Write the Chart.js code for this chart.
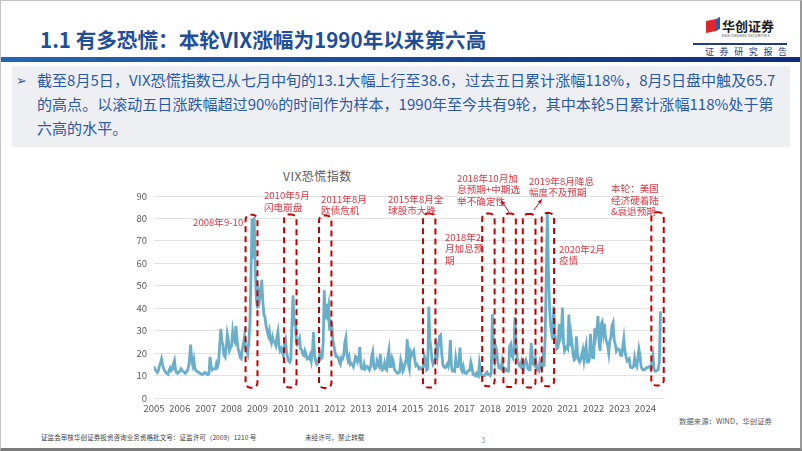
<!DOCTYPE html>
<html>
<head>
<meta charset="utf-8">
<script src="https://cdn.jsdelivr.net/npm/chart.js@4.4.1/dist/chart.umd.min.js"></script>
<style>
  body { margin: 0; width: 802px; height: 451px; overflow: hidden; background: #fff;
         font-family: "Noto Sans CJK SC", "Noto Sans", sans-serif; position: relative; }
  .abs { position: absolute; white-space: nowrap; }
  #frame { position: absolute; left: 0; top: 0; width: 799px; height: 447px;
           border-left: 1px solid #c4c4c4; border-top: 1px solid #c4c4c4;
           border-right: 2px solid #9a9a9a; border-bottom: 3px solid #7c7c7c; }
  #title { left: 40px; top: 26px; font-size: 20.6px; line-height: 26px; font-weight: 700; color: #1f4e9b; }
  #bar { left: 1px; top: 57px; width: 799px; height: 5px; background: linear-gradient(to right, #2466b1, #0c2d7c); }
  #box { left: 12px; top: 66px; width: 778px; height: 81px; background: #eeeff2; }
  #para { left: 37px; top: 68px; font-size: 15.05px; line-height: 24px; color: #2a5aa6; }
  #marker { left: 16px; top: 69px; font-size: 13px; line-height: 22px; color: #2a5aa6; }
  #chartTitle { left: 283px; top: 167px; font-size: 12px; line-height: 18px; color: #595959; letter-spacing: 0.5px; }
  #source { left: 679px; top: 415px; font-size: 7.4px; line-height: 12px; color: #595959; }
  #foot1 { left: 41px; top: 431px; font-size: 6.6px; line-height: 12px; color: #444; }
  #foot2 { left: 305px; top: 431px; font-size: 6.6px; line-height: 12px; color: #444; }
  #page { left: 481px; top: 434px; font-size: 8px; line-height: 12px; color: #a0a0a0; }
  #logoRed { left: 706px; top: 20px; width: 10px; height: 12px; background: #e0262b; transform: skewY(-12deg); }
  #logoBlue { left: 716px; top: 18px; width: 4px; height: 12px; background: #2b5aa8; transform: skewY(-30deg); }
  #logoName { left: 722px; top: 17px; font-size: 13px; line-height: 18px; font-weight: 700; color: #1d1d1d; }
  #logoEn { left: 722px; top: 33px; font-size: 3.6px; line-height: 5px; color: #333; letter-spacing: 0.2px; }
  #logoLine { left: 693px; top: 43px; width: 94px; height: 1.5px; background: #1f3c88; }
  #report { left: 705px; top: 46px; font-size: 9px; line-height: 12px; color: #1f3c88; letter-spacing: 5.6px; }
  canvas { position: absolute; left: 0; top: 0; }
</style>
</head>
<body>
<div id="frame"></div>
<div class="abs" id="title">1.1 有多恐慌：本轮VIX涨幅为1990年以来第六高</div>
<div class="abs" id="logoRed"></div>
<div class="abs" id="logoBlue"></div>
<div class="abs" id="logoName">华创证券</div>
<div class="abs" id="logoEn">HUA CHUANG SECURITIES</div>
<div class="abs" id="logoLine"></div>
<div class="abs" id="report">证券研究报告</div>
<div class="abs" id="bar"></div>
<div class="abs" id="box"></div>
<div class="abs" id="marker">➢</div>
<div class="abs" id="para">截至8月5日，VIX恐慌指数已从七月中旬的13.1大幅上行至38.6，过去五日累计涨幅118%，8月5日盘中触及65.7<br>的高点。以滚动五日涨跌幅超过90%的时间作为样本，1990年至今共有9轮，其中本轮5日累计涨幅118%处于第<br>六高的水平。</div>
<div class="abs" id="chartTitle">VIX恐慌指数</div>
<div class="abs" id="source">数据来源：WIND，华创证券</div>
<div class="abs" id="foot1">证监会审核华创证券投资咨询业务资格批文号：证监许可（2009）1210 号</div>
<div class="abs" id="foot2">未经许可，禁止转载</div>
<div class="abs" id="page">3</div>
<canvas id="chart" width="802" height="451"></canvas>

<script>
// VIX closes, two readings per month (first / second half)
const vix2005 = [14.1, 12.6, 12.2, 11.4, 12.1, 14.2, 15.6, 17.4, 14.8, 13.1, 12.0, 11.3, 10.9, 10.6, 12.3, 13.4, 12.2, 12.6, 15.3, 16.8, 12.5, 11.2, 11.0, 11.6];
const vix2006 = [11.8, 13.0, 12.4, 11.9, 11.5, 11.0, 11.6, 12.2, 13.8, 17.6, 23.8, 16.2, 14.3, 17.0, 13.1, 12.2, 11.8, 11.6, 11.1, 10.9, 10.6, 10.5, 10.8, 11.3];
const vix2007 = [11.2, 10.6, 10.4, 10.8, 18.3, 14.2, 12.6, 13.0, 13.1, 13.0, 15.4, 14.1, 16.0, 23.8, 30.8, 25.2, 23.6, 19.0, 18.2, 22.3, 28.5, 25.9, 21.2, 22.5];
const vix2008 = [23.2, 29.5, 26.0, 25.0, 32.0, 26.5, 22.0, 20.5, 18.0, 17.5, 22.0, 24.0, 27.5, 23.0, 21.0, 19.5, 25.0, 33.0, 55.0, 80.0, 62.0, 80.5, 56.0, 44.0];
const vix2009 = [40.0, 47.0, 44.0, 48.0, 52.6, 43.0, 37.0, 36.0, 32.0, 30.0, 28.0, 30.0, 26.0, 24.5, 27.0, 25.0, 25.0, 23.5, 27.0, 29.5, 23.0, 21.0, 22.0, 20.5];
const vix2010 = [19.0, 24.5, 26.0, 20.5, 18.0, 16.5, 16.0, 17.5, 33.0, 45.8, 32.0, 35.5, 26.0, 24.0, 25.0, 26.5, 22.0, 21.5, 19.5, 19.0, 21.0, 19.5, 17.5, 18.0];
const vix2011 = [17.5, 19.0, 16.5, 20.5, 29.4, 19.0, 16.5, 15.0, 15.5, 17.5, 20.0, 17.5, 18.0, 25.0, 48.0, 35.0, 42.0, 38.0, 41.0, 30.0, 34.0, 33.0, 26.0, 23.0];
const vix2012 = [20.5, 18.5, 18.5, 18.0, 16.0, 15.0, 18.0, 17.5, 19.0, 24.5, 26.7, 19.5, 17.0, 18.5, 15.0, 15.5, 15.0, 14.0, 16.0, 18.5, 18.0, 16.0, 17.0, 22.7];
const vix2013 = [14.0, 13.0, 13.0, 15.2, 13.0, 13.5, 14.0, 13.5, 12.5, 14.0, 18.5, 20.5, 14.0, 13.0, 13.5, 16.5, 15.0, 14.0, 19.5, 14.0, 12.5, 13.0, 15.5, 13.0];
const vix2014 = [12.5, 18.5, 21.4, 14.0, 14.0, 17.8, 16.5, 13.0, 12.0, 11.5, 11.0, 11.2, 11.5, 16.9, 15.0, 12.0, 13.0, 15.5, 17.0, 26.2, 15.0, 13.0, 20.5, 19.0];
const vix2015 = [20.0, 21.0, 17.0, 14.5, 15.0, 14.0, 13.0, 13.5, 13.0, 12.5, 14.0, 18.5, 17.0, 12.5, 13.0, 40.7, 26.0, 22.0, 17.0, 15.0, 16.0, 17.5, 22.5, 19.0];
const vix2016 = [24.0, 27.6, 28.1, 20.0, 15.0, 14.0, 13.5, 14.0, 15.0, 14.0, 17.0, 25.8, 14.0, 12.0, 12.0, 11.8, 17.5, 14.0, 14.0, 16.5, 22.5, 13.0, 12.0, 14.0];
const vix2017 = [11.5, 11.0, 11.0, 12.0, 12.0, 12.5, 15.9, 14.0, 10.5, 10.5, 10.0, 11.0, 10.0, 9.6, 15.5, 12.5, 10.0, 9.6, 9.8, 10.0, 11.0, 11.5, 10.5, 10.5];
const vix2018 = [10.0, 11.5, 37.3, 19.5, 17.0, 23.0, 21.0, 16.0, 13.5, 13.5, 13.0, 16.0, 12.5, 12.0, 13.0, 12.5, 12.0, 12.0, 23.0, 24.0, 19.0, 18.0, 21.5, 36.1];
const vix2019 = [25.0, 18.0, 16.0, 14.5, 14.0, 16.0, 13.5, 12.5, 16.0, 17.0, 15.5, 13.0, 12.5, 12.5, 24.6, 19.0, 15.0, 14.5, 17.5, 14.0, 12.5, 12.0, 15.5, 13.5];
const vix2020 = [13.0, 18.0, 14.0, 27.0, 54.0, 82.7, 57.0, 41.0, 33.0, 29.0, 26.0, 40.8, 28.0, 25.0, 22.0, 22.5, 33.0, 26.5, 28.0, 40.3, 25.0, 21.0, 22.0, 22.8];
const vix2021 = [22.0, 37.2, 23.0, 28.0, 24.0, 19.0, 17.0, 17.5, 27.5, 20.0, 17.0, 16.0, 17.0, 19.5, 21.5, 17.0, 21.0, 23.5, 16.0, 16.0, 17.0, 28.6, 22.0, 18.0];
const vix2022 = [18.0, 31.0, 27.5, 30.5, 36.5, 24.0, 21.0, 33.0, 34.0, 29.0, 33.0, 27.0, 25.0, 23.5, 20.0, 25.5, 27.0, 32.3, 33.6, 26.0, 24.0, 21.0, 22.0, 21.7];
const vix2023 = [21.5, 19.0, 19.0, 22.9, 26.5, 21.0, 18.5, 16.5, 17.0, 17.5, 14.0, 13.5, 13.5, 14.0, 17.9, 15.0, 14.0, 17.5, 21.7, 19.0, 14.0, 13.0, 12.5, 12.5];
const vix2024 = [13.0, 13.5, 13.5, 14.0, 14.0, 13.0, 16.0, 18.7, 13.0, 12.0, 12.0, 12.5, 12.7, 16.5, 38.6];

const tickYears = [2005, 2006, 2007, 2008, 2009, 2010, 2011, 2012, 2013, 2014, 2015, 2016, 2017, 2018, 2019, 2020, 2021, 2022, 2023, 2024];

// highlighted episodes: start / end (year), top / bottom (index level)
const episodeFrom = [2008.54, 2010.03, 2011.38, 2015.40, 2017.69, 2018.51, 2019.26, 2019.99, 2024.23];
const episodeTo = [2009.00, 2010.51, 2011.86, 2015.88, 2018.17, 2018.99, 2019.75, 2020.47, 2024.71];
const episodeTop = [81.6, 81.8, 81.3, 82.2, 82.2, 82.2, 82.0, 82.4, 82.8];
const episodeBottom = [4.6, 4.7, 4.5, 4.7, 5.2, 4.9, 4.7, 5.2, 5.6];

const yearSeries = [
  [2005, vix2005], [2006, vix2006], [2007, vix2007], [2008, vix2008], [2009, vix2009],
  [2010, vix2010], [2011, vix2011], [2012, vix2012], [2013, vix2013], [2014, vix2014],
  [2015, vix2015], [2016, vix2016], [2017, vix2017], [2018, vix2018], [2019, vix2019],
  [2020, vix2020], [2021, vix2021], [2022, vix2022], [2023, vix2023], [2024, vix2024],
];
const points = [];
yearSeries.forEach(([yr, arr]) => {
  arr.forEach((v, i) => points.push({ x: yr + i / 24, y: v }));
});

// label text, anchored at (year, level) of its first line
const notes = [
  { lines: ["2008年9-10"], at: [2006.51, 78.4] },
  { lines: ["2010年5月", "闪电崩盘"], at: [2009.25, 90.1] },
  { lines: ["2011年8月", "欧债危机"], at: [2011.46, 88.6] },
  { lines: ["2015年8月全", "球股市大跌"], at: [2014.05, 88.6] },
  { lines: ["2018年10月加", "息预期+中期选", "举不确定性"], at: [2016.72, 97.9] },
  { lines: ["2019年8月降息", "幅度不及预期"], at: [2019.50, 96.6] },
  { lines: ["2018年2", "月加息预", "期"], at: [2016.25, 71.7] },
  { lines: ["2020年2月", "疫情"], at: [2020.66, 66.4] },
  { lines: ["本轮：美国", "经济硬着陆", "&衰退预期"], at: [2022.67, 93.4] },
];
const arrows = [
  { from: [2018.73, 82.8], to: [2018.42, 88.1] },
  { from: [2019.69, 83.7], to: [2020.00, 88.6] },
];

const episodesPlugin = {
  id: "episodes",
  afterDatasetsDraw(chart) {
    const { ctx, scales: { x, y } } = chart;
    ctx.save();
    ctx.strokeStyle = "#c00000";
    ctx.lineWidth = 2;
    ctx.setLineDash([6, 4]);
    episodeFrom.forEach((f, i) => {
      const l = x.getPixelForValue(f), r = x.getPixelForValue(episodeTo[i]);
      const t = y.getPixelForValue(episodeTop[i]), b = y.getPixelForValue(episodeBottom[i]);
      ctx.beginPath();
      ctx.roundRect(l, t, r - l, b - t, 5);
      ctx.stroke();
    });
    ctx.setLineDash([]);

    ctx.fillStyle = "#d63c48";
    ctx.font = '9.6px "Noto Sans CJK SC"';
    ctx.textBaseline = "middle";
    notes.forEach((n) => {
      const px = x.getPixelForValue(n.at[0]);
      const py = y.getPixelForValue(n.at[1]);
      n.lines.forEach((s, k) => ctx.fillText(s, px, py + k * 11.5));
    });

    ctx.strokeStyle = "#c0102a";
    ctx.fillStyle = "#c0102a";
    ctx.lineWidth = 1;
    arrows.forEach((a) => {
      const x1 = x.getPixelForValue(a.from[0]), y1 = y.getPixelForValue(a.from[1]);
      const x2 = x.getPixelForValue(a.to[0]), y2 = y.getPixelForValue(a.to[1]);
      ctx.beginPath();
      ctx.moveTo(x1, y1);
      ctx.lineTo(x2, y2);
      ctx.stroke();
      const ang = Math.atan2(y2 - y1, x2 - x1);
      ctx.beginPath();
      ctx.moveTo(x2, y2);
      ctx.lineTo(x2 - 5 * Math.cos(ang - 0.45), y2 - 5 * Math.sin(ang - 0.45));
      ctx.lineTo(x2 - 5 * Math.cos(ang + 0.45), y2 - 5 * Math.sin(ang + 0.45));
      ctx.closePath();
      ctx.fill();
    });
    ctx.restore();
  },
};

new Chart(document.getElementById("chart"), {
  type: "line",
  data: {
    datasets: [{
      label: "VIX",
      data: points,
      borderColor: "#6aafca",
      borderWidth: 2.8,
      pointRadius: 0,
      tension: 0,
    }],
  },
  options: {
    responsive: false,
    animation: false,
    layout: { padding: { left: 114, right: 138, top: 196, bottom: 33 } },
    plugins: { legend: { display: false }, tooltip: { enabled: false } },
    scales: {
      x: {
        type: "linear",
        min: 2005,
        max: 2024.72,
        afterFit: (s) => { s.height = 20; },
        afterBuildTicks: (s) => { s.ticks = tickYears.map((v) => ({ value: v })); },
        grid: { display: false, drawTicks: false },
        border: { display: false },
        ticks: {
          autoSkip: false, maxRotation: 0, padding: 5,
          color: "#595959", font: { size: 9.5, family: "Noto Sans CJK SC" },
          callback: (v) => String(v),
        },
      },
      y: {
        min: 0,
        max: 90,
        afterFit: (s) => { s.width = 40; },
        grid: { color: "#e3e3e3", drawTicks: false },
        border: { display: false },
        ticks: {
          stepSize: 10, padding: 7,
          color: "#595959", font: { size: 9.5, family: "Noto Sans CJK SC" },
        },
      },
    },
  },
  plugins: [episodesPlugin],
});
</script>
</body>
</html>
